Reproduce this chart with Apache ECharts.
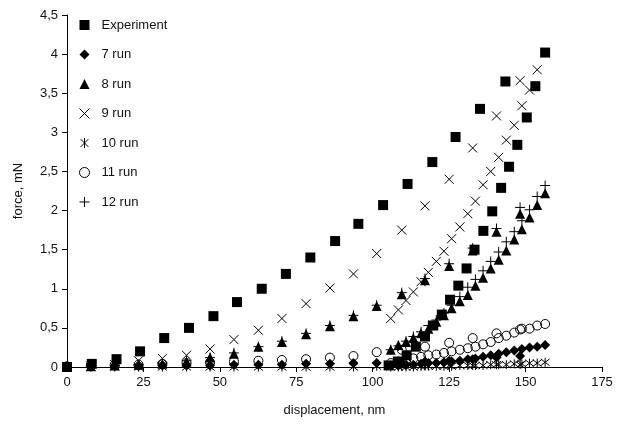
<!DOCTYPE html>
<html>
<head>
<meta charset="utf-8">
<script src="https://cdn.jsdelivr.net/npm/echarts@6/dist/echarts.min.js"></script>
<style>
html,body{margin:0;padding:0;background:#fff;}
#chart{width:620px;height:430px;}
</style>
</head>
<body>
<div id="chart"></div>
<script>
// ---- data ----
var seriesNames = ['Experiment', '7 run', '8 run', '9 run', '10 run', '11 run', '12 run'];
var xTicks = [0, 25, 50, 75, 100, 125, 150, 175];
var yTicks = [0, 0.5, 1, 1.5, 2, 2.5, 3, 3.5, 4, 4.5];

// Experiment: loading branch and second branch
var expUpX = [0, 8.1, 16.2, 23.9, 31.8, 39.9, 47.9, 55.6, 63.7, 71.6, 79.6, 87.7, 95.3, 103.4, 111.4, 119.5, 127.1, 135.1, 143.4];
var expUpY = [0, 0.04, 0.1, 0.2, 0.37, 0.5, 0.65, 0.83, 1.0, 1.19, 1.4, 1.61, 1.83, 2.07, 2.34, 2.62, 2.94, 3.3, 3.65];
var expLowX = [105.2, 108.2, 111.1, 114.1, 117.1, 119.8, 122.6, 125.3, 128, 130.7, 133.3, 136.2, 139.1, 142, 144.6, 147.3, 150.4, 153.2, 156.4];
var expLowY = [0.02, 0.07, 0.15, 0.26, 0.39, 0.53, 0.67, 0.86, 1.04, 1.26, 1.5, 1.74, 1.99, 2.29, 2.56, 2.84, 3.19, 3.59, 4.02];

// simulation runs: common displacement grids
var runUpX = [0, 7.8, 15.6, 23.4, 31.2, 39.1, 46.8, 54.6, 62.6, 70.3, 78.2, 86, 93.7, 101.3, 109.5, 117.1, 125, 132.7, 140.5, 148.2];
var runLowX = [105.9, 108.4, 110.9, 113.3, 115.8, 118.2, 120.8, 123.3, 125.8, 128.5, 131.1, 133.6, 136.1, 138.6, 141.2, 143.7, 146.3, 148.8, 151.3, 153.8, 156.4];

var run7Up = [0, 0.01, 0.01, 0.01, 0.02, 0.02, 0.02, 0.03, 0.03, 0.03, 0.04, 0.04, 0.05, 0.05, 0.06, 0.07, 0.08, 0.1, 0.12, 0.14];
var run7Low = [0.02, 0.02, 0.03, 0.03, 0.04, 0.05, 0.05, 0.06, 0.07, 0.08, 0.1, 0.11, 0.13, 0.15, 0.17, 0.19, 0.21, 0.23, 0.25, 0.26, 0.28];

var run8Up = [0, 0.01, 0.02, 0.03, 0.04, 0.07, 0.12, 0.17, 0.26, 0.32, 0.42, 0.52, 0.65, 0.78, 0.93, 1.11, 1.29, 1.49, 1.73, 1.96];
var run8Low = [0.22, 0.28, 0.32, 0.37, 0.43, 0.49, 0.58, 0.66, 0.75, 0.84, 0.92, 1.04, 1.14, 1.26, 1.37, 1.49, 1.63, 1.76, 1.91, 2.07, 2.22];

var run9Up = [0, 0.01, 0.03, 0.08, 0.11, 0.15, 0.23, 0.35, 0.47, 0.62, 0.81, 1.01, 1.19, 1.45, 1.75, 2.06, 2.4, 2.8, 3.21, 3.66];
var run9Low = [0.62, 0.73, 0.85, 0.96, 1.09, 1.21, 1.35, 1.48, 1.64, 1.79, 1.96, 2.12, 2.33, 2.5, 2.68, 2.9, 3.09, 3.34, 3.54, 3.8];

var run10Up = [0, 0, 0, 0, 0, 0, 0, 0, 0, 0, 0, 0, 0, 0.01, 0.01, 0.01, 0.02, 0.02, 0.03, 0.03];
var run10Low = [0, 0, 0, 0, 0.01, 0.01, 0.01, 0.01, 0.01, 0.02, 0.02, 0.02, 0.02, 0.03, 0.03, 0.03, 0.04, 0.04, 0.05, 0.05, 0.06];

var run11Up = [0.01, 0.02, 0.03, 0.03, 0.04, 0.05, 0.06, 0.07, 0.08, 0.09, 0.1, 0.12, 0.14, 0.19, 0.22, 0.26, 0.31, 0.37, 0.43, 0.48];
var run11Low = [0.05, 0.07, 0.09, 0.11, 0.13, 0.15, 0.16, 0.18, 0.2, 0.22, 0.24, 0.26, 0.29, 0.32, 0.37, 0.4, 0.44, 0.49, 0.49, 0.53, 0.55];

var run12Up = [0, 0.01, 0.02, 0.03, 0.05, 0.08, 0.12, 0.18, 0.26, 0.33, 0.43, 0.53, 0.66, 0.79, 0.95, 1.13, 1.32, 1.52, 1.77, 2.04];
var run12Low = [0.22, 0.27, 0.33, 0.39, 0.45, 0.53, 0.6, 0.69, 0.79, 0.9, 1.02, 1.12, 1.23, 1.35, 1.47, 1.6, 1.73, 1.87, 2.01, 2.18, 2.32];

// ---- build ----
function pairs(xs, ys) {
  var out = [];
  for (var i = 0; i < ys.length; i++) out.push([xs[i], ys[i]]);
  return out;
}
var FONT = '"Liberation Sans", Arial, sans-serif';
var symX = 'path://M0,0L10,10M10,0L0,10';
var symStar = 'path://M0,0L10,10M10,0L0,10M5,-1.5L5,11.5';
var symPlus = 'path://M5,0L5,10M0,5L10,5';

var solid = {color: '#000', borderWidth: 0, opacity: 1};
var stroke = {color: 'transparent', borderColor: '#000', borderWidth: 1, opacity: 1};

var defs = [
  {name: seriesNames[0], symbol: 'rect', size: 10, style: solid,
   data: pairs(expUpX, expUpY).concat(pairs(expLowX, expLowY))},
  {name: seriesNames[1], symbol: 'diamond', size: 10, style: solid,
   data: pairs(runUpX, run7Up).concat(pairs(runLowX, run7Low))},
  {name: seriesNames[2], symbol: 'triangle', size: 10, style: solid,
   data: pairs(runUpX, run8Up).concat(pairs(runLowX, run8Low))},
  {name: seriesNames[3], symbol: symX, size: 9, style: stroke,
   data: pairs(runUpX, run9Up).concat(pairs(runLowX, run9Low))},
  {name: seriesNames[4], symbol: symStar, size: 9, style: stroke,
   data: pairs(runUpX, run10Up).concat(pairs(runLowX, run10Low))},
  {name: seriesNames[5], symbol: 'circle', size: 9, style: stroke,
   data: pairs(runUpX, run11Up).concat(pairs(runLowX, run11Low))},
  {name: seriesNames[6], symbol: symPlus, size: 10, style: stroke,
   data: pairs(runUpX, run12Up).concat(pairs(runLowX, run12Low))}
];

var series = defs.map(function (d) {
  return {
    type: 'scatter', name: d.name, data: d.data,
    symbol: d.symbol, symbolSize: d.size,
    itemStyle: d.style, emphasis: {disabled: true},
    animation: false
  };
});

var axisText = {fontFamily: FONT, fontSize: 13, color: '#111'};

var chart = echarts.init(document.getElementById('chart'), null, {renderer: 'canvas'});
chart.setOption({
  backgroundColor: '#fff',
  animation: false,
  grid: {left: 67, right: 18, top: 15, bottom: 63, containLabel: false},
  legend: {
    orient: 'vertical', left: 74, top: 13,
    itemWidth: 10, itemHeight: 10, itemGap: 15.5,
    data: seriesNames,
    textStyle: {fontFamily: FONT, fontSize: 13, color: '#111', lineHeight: 14, padding: [0, 0, 0, 7]},
    itemStyle: {borderWidth: 1, opacity: 1}
  },
  xAxis: {
    type: 'value', min: xTicks[0], max: xTicks[xTicks.length - 1], interval: 25,
    name: 'displacement, nm', nameLocation: 'middle', nameGap: 37,
    nameTextStyle: axisText,
    axisLine: {lineStyle: {color: '#000', width: 1}},
    axisTick: {inside: false, length: 5, lineStyle: {color: '#000'}},
    axisLabel: Object.assign({margin: 9}, axisText),
    splitLine: {show: false}
  },
  yAxis: {
    type: 'value', min: yTicks[0], max: yTicks[yTicks.length - 1], interval: 0.5,
    name: 'force, mN', nameLocation: 'middle', nameGap: 42, nameRotate: 90,
    nameTextStyle: axisText,
    axisLine: {show: true, lineStyle: {color: '#000', width: 1}},
    axisTick: {show: true, inside: false, length: 5, lineStyle: {color: '#000'}},
    axisLabel: Object.assign({margin: 9, formatter: function (v) { return String(v).replace('.', ','); }}, axisText),
    splitLine: {show: false}
  },
  series: series
});
</script>
</body>
</html>
